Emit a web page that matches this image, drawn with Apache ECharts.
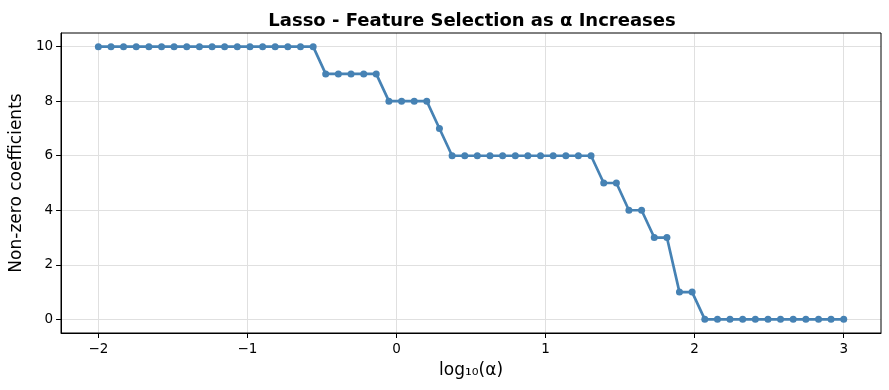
<!DOCTYPE html>
<html>
<head>
<meta charset="utf-8">
<script src="https://cdn.jsdelivr.net/npm/echarts@6/dist/echarts.min.js"></script>
<style>html,body{margin:0;padding:0;background:#fff}#c{width:889px;height:390px}</style>
</head>
<body>
<div id="c"></div>
<script>
const logAlpha = [-2.000,-1.915,-1.831,-1.746,-1.661,-1.576,-1.492,-1.407,-1.322,-1.237,
  -1.153,-1.068,-0.983,-0.898,-0.814,-0.729,-0.644,-0.559,-0.475,-0.390,
  -0.305,-0.220,-0.136,-0.051,0.034,0.119,0.203,0.288,0.373,0.458,
  0.542,0.627,0.712,0.797,0.881,0.966,1.051,1.136,1.220,1.305,
  1.390,1.475,1.559,1.644,1.729,1.814,1.898,1.983,2.068,2.153,
  2.237,2.322,2.407,2.492,2.576,2.661,2.746,2.831,2.915,3.000];
const nonZero = [10,10,10,10,10,10,10,10,10,10,10,10,10,10,10,10,10,10,
  9,9,9,9,9,
  8,8,8,8,
  7,
  6,6,6,6,6,6,6,6,6,6,6,6,
  5,5,4,4,3,3,1,1,
  0,0,0,0,0,0,0,0,0,0,0,0];
const xTicks = [-2,-1,0,1,2,3];
const yTicks = [0,2,4,6,8,10];

const font = 'DejaVu Sans';
const chart = echarts.init(document.getElementById('c'), null, {renderer:'canvas'});
const fmt = v => String(v).replace('-', '\u2212');
chart.setOption({
  animation:false,
  title:{text:'Lasso - Feature Selection as \u03b1 Increases', left:467, textAlign:'center', top:7,
    textStyle:{fontFamily:font, fontWeight:'bold', fontSize:18, color:'#000'}},
  grid:{left:61, right:8, top:33, bottom:57},
  xAxis:{type:'value', min:-2.25, max:3.25,
    name:'log\u2081\u2080(\u03b1)', nameLocation:'middle', nameGap:29,
    nameTextStyle:{fontFamily:font, fontSize:17, color:'#000'},
    axisLine:{show:true, onZero:false, lineStyle:{color:'#000', width:1}},
    axisTick:{show:true, length:5, customValues:xTicks, lineStyle:{color:'#000'}},
    axisLabel:{customValues:xTicks, formatter:fmt, fontFamily:font, fontSize:13.5, color:'#000', margin:9},
    splitLine:{show:true, lineStyle:{color:'#e0e0e0', width:1}}
  },
  yAxis:{type:'value', min:-0.5, max:10.5,
    name:'Non-zero coefficients', nameLocation:'middle', nameGap:35,
    nameTextStyle:{fontFamily:font, fontSize:17, color:'#000'},
    axisLine:{show:true, onZero:false, lineStyle:{color:'#000', width:1}},
    axisTick:{show:true, length:5, customValues:yTicks, lineStyle:{color:'#000'}},
    axisLabel:{customValues:yTicks, formatter:fmt, fontFamily:font, fontSize:13.5, color:'#000', margin:8},
    splitLine:{show:true, lineStyle:{color:'#e0e0e0', width:1}}
  },
  series:[{type:'line', data:logAlpha.map((x,i)=>[x, nonZero[i]]),
    symbol:'circle', symbolSize:7, showSymbol:true,
    lineStyle:{color:'#4682b4', width:2.7},
    itemStyle:{color:'#4682b4'}}]
});
chart.setOption({graphic:[
  {type:'rect', shape:{x:61, y:33, width:820, height:300}, style:{fill:'none', stroke:'#000', lineWidth:1}, silent:true, z:10}
]});
</script>
</body>
</html>
